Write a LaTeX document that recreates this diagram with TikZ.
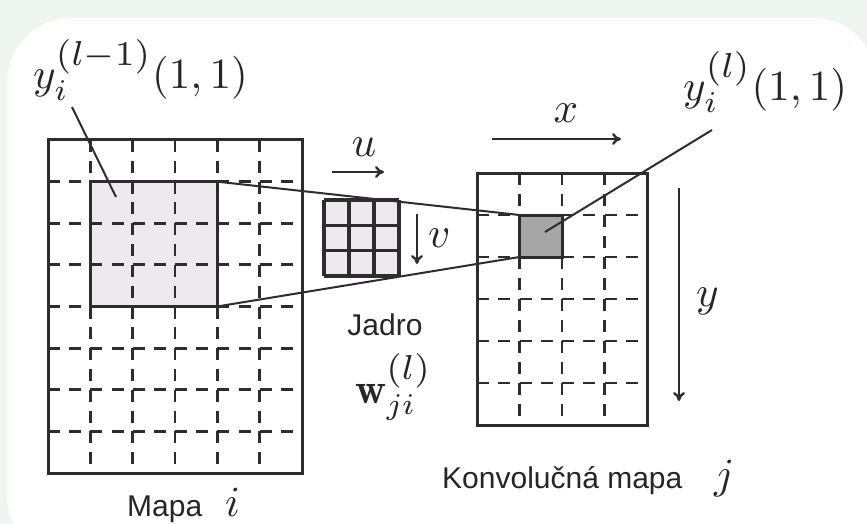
\documentclass[tikz,border=0pt]{standalone}
\usepackage{graphicx}
\usepackage{fontspec}
\setsansfont{Liberation Sans}
\usetikzlibrary{arrows.meta}
\definecolor{bggreen}{RGB}{239,245,239}
\definecolor{ink}{RGB}{45,45,45}
\definecolor{hlfill}{RGB}{237,233,238}
\definecolor{darkcell}{RGB}{166,166,166}
\newcommand\bigmath[1]{\scalebox{4.3}{\fontsize{10}{12}\selectfont$#1$}}
\newcommand\supsc[1]{\scalebox{1.15}{$\scriptstyle #1$}}
\newcommand\mysanssz{\sffamily\fontsize{30}{36}\selectfont}
\begin{document}
\begin{tikzpicture}[x=1pt,y=-1pt,
  frame/.style={draw=ink,line width=3pt},
  gridh/.style={draw=ink,line width=2.8pt,dash pattern=on 12pt off #1},
  gridv/.style={draw=ink,line width=2.8pt,dash pattern=on 12pt off #1},
  cellbox/.style={inner sep=0pt,outer sep=0pt,anchor=north west,draw=ink,line width=3pt},
  kline/.style={draw=ink,line width=3.6pt},
  leader/.style={draw=ink,line width=2pt},
  axis/.style={draw=ink,line width=2.4pt,-{To[length=9pt,width=12pt]}},
  mathlbl/.style={inner sep=0pt,text=black!85},
  sanslbl/.style={inner sep=0pt,font=\mysanssz,text=black!85}]
\useasboundingbox (0,0) rectangle (867,524);
\clip (0,0) rectangle (867,524);
% background
\fill[bggreen] (0,0) rectangle (867,524);
\fill[white] (72,560) arc[start angle=90,end angle=180,radius=65]
  -- (7,83) arc[start angle=180,end angle=270,radius=65]
  -- (815,18) arc[start angle=270,end angle=360,radius=60]
  -- (875,560) -- cycle;

% ---------- left map ----------
\node[cellbox,fill=hlfill,minimum width=126.67pt,minimum height=124.875pt] (hl) at (90.333,181.625) {};
\foreach \i in {1,...,5}{
  \draw[gridv=8.8125pt] ({48+\i*42.333},140) -- ({48+\i*42.333},473);
}
\foreach \j in {1,...,7}{
  \draw[gridh=9.1667pt] (48,{140+\j*41.625}) -- (302,{140+\j*41.625});
}
\draw[draw=ink,line width=3pt] (hl.north west) rectangle (hl.south east);
\draw[frame] (48,140) rectangle (302,473);

% ---------- kernel ----------
\node[inner sep=0pt,outer sep=0pt,anchor=north west,fill=hlfill,minimum width=75pt,minimum height=76pt] (ker) at (324,200) {};
\foreach \k in {0,1,2,3}{
  \draw[kline] ({324+\k*25},200) -- ({324+\k*25},276);
  \draw[kline] (324,{200+\k*25.333}) -- (399,{200+\k*25.333});
}

% ---------- right map ----------
\foreach \i in {1,...,3}{
  \draw[gridv=9pt] ({477+\i*42.5},173) -- ({477+\i*42.5},425);
}
\foreach \j in {1,...,5}{
  \draw[gridh=9.25pt] (477,{173+\j*42}) -- (647,{173+\j*42});
}
\node[cellbox,fill=darkcell,minimum width=42.5pt,minimum height=42pt] (dk) at (519.5,215) {};
\draw[frame] (477,173) rectangle (647,425);

% ---------- projection lines ----------
\draw[leader] (hl.north east) -- (dk.north west);
\draw[leader] (hl.south east) -- (dk.south west);

% ---------- labels ----------
\node[mathlbl,anchor=base west] (lblA) at (33,89) {\bigmath{y_i^{\supsc{(l-1)}}(1,1)}};
\coordinate (pA) at (72,107);
\coordinate (pAe) at (116,197);
\draw[leader] (pA) -- (pAe);

\node[mathlbl,anchor=base west] (lblB) at (683,101) {\bigmath{y_i^{\supsc{(l)}}(1,1)}};
\coordinate (pB) at (712,130);
\coordinate (pBe) at (545,232);
\draw[leader] (pB) -- (pBe);

% u arrow
\node[mathlbl,anchor=base] (lu) at (364,157) {\bigmath{u}};
\coordinate (ua) at (332,172);
\coordinate (ub) at (384,172);
\draw[axis] (ua) -- (ub);
% v arrow
\coordinate (va) at (417,214);
\coordinate (vb) at (417,264);
\draw[axis] (va) -- (vb);
\node[mathlbl,anchor=base west] (lv) at (428,247) {\bigmath{v}};
% x arrow
\node[mathlbl,anchor=base] (lx) at (566,123) {\bigmath{x}};
\coordinate (xa) at (492,139);
\coordinate (xb) at (621,139);
\draw[axis] (xa) -- (xb);
% y arrow
\coordinate (ya) at (679,188);
\coordinate (yb) at (679,401);
\draw[axis] (ya) -- (yb);
\node[mathlbl,anchor=base west] (ly) at (696,306) {\bigmath{y}};

\node[sanslbl,anchor=base] (jadro) at (385,335) {Jadro};
\node[mathlbl,anchor=base west] (wlbl) at (355,403) {\bigmath{\mathbf{w}_{ji}^{\supsc{(l)}}}};
\node[sanslbl,anchor=base west] (konv) at (442,488) {Konvolučná mapa};
\node[mathlbl,anchor=base west] (lj) at (714,488) {\bigmath{j}};
\node[sanslbl,anchor=base west] (mapa) at (127,516) {Mapa};
\node[mathlbl,anchor=base west] (li) at (225,516) {\bigmath{i}};
\end{tikzpicture}
\end{document}
